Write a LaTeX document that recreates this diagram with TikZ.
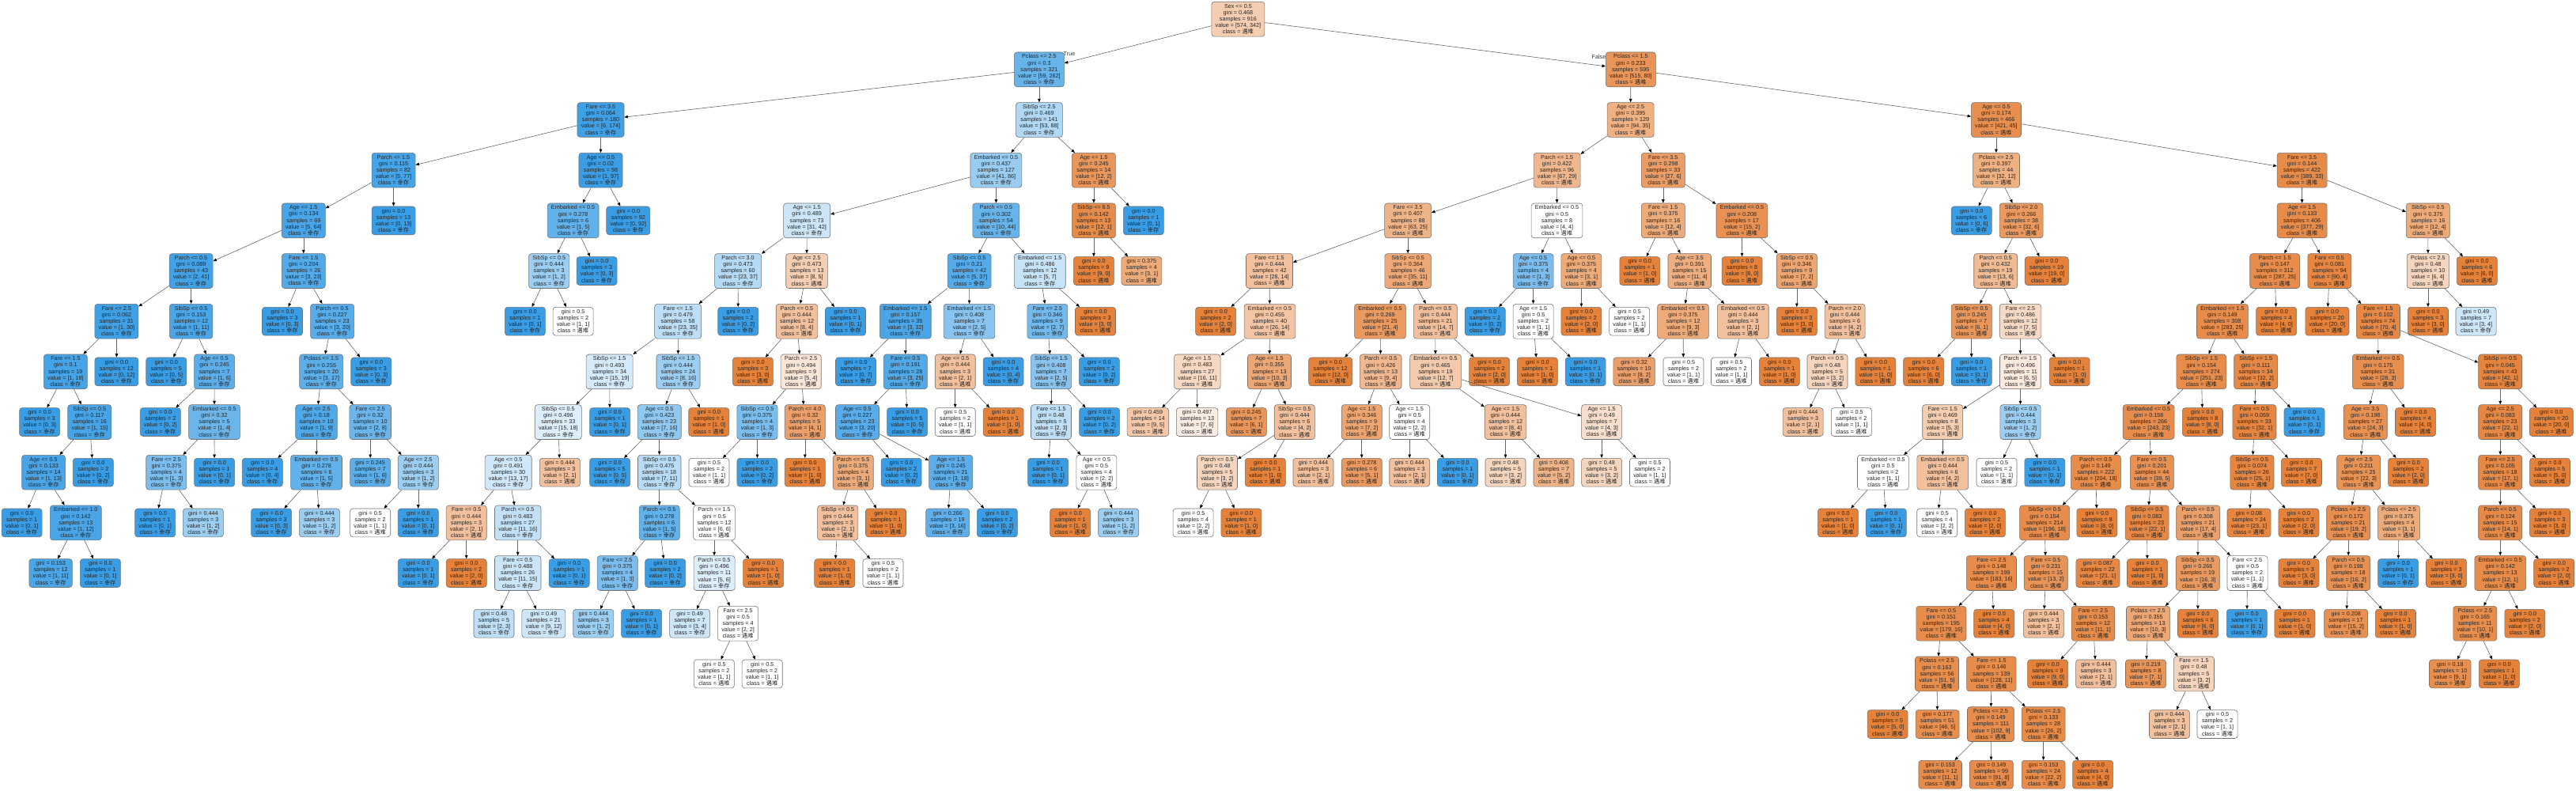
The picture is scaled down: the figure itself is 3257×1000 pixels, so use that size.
\documentclass[tikz,border=0pt]{standalone}
\usepackage{fontspec}
\setmainfont{Liberation Sans}
\newfontfamily\cjk{Noto Sans CJK SC}
\usetikzlibrary{arrows.meta}
\definecolor{Or}{RGB}{229,129,57}
\definecolor{Bl}{RGB}{57,157,229}
\newcommand\tnfont{\fontsize{7.2}{8.12}\selectfont\lineskiplimit=-6pt}
\tikzset{
  tbox/.style={draw=black!55, line width=0.6pt, rounded corners=3.5pt, align=center,
    text=black!85, font=\tnfont, inner xsep=4.8pt, inner ysep=0pt},
  splitbox/.style={tbox, minimum height=43.8pt},
  leafbox/.style={tbox, minimum height=35.8pt},
  tedge/.style={draw=black!60, line width=0.6pt, -{Triangle[length=4.5pt,width=3.6pt,color=black]}},
  tlabel/.style={font=\tnfont, text=black!80, inner sep=0pt}
}
% #1 parent, #2 id, #3 x, #4 level, #5 condition (empty = leaf), #6 gini, #7 samples, #8 a, #9 b
\newcommand\TN[9]{%
  \ifnum#8<#9\relax
    \pgfmathtruncatemacro\tnP{round(100*(1-#8/#9))}\def\tnBase{Bl}\def\tnC{幸存}%
  \else
    \pgfmathtruncatemacro\tnP{round(100*(1-#9/#8))}\def\tnBase{Or}\def\tnC{遇难}%
  \fi
  \edef\tnFill{\tnBase!\tnP}%
  \pgfmathsetmacro\tnY{24.2+63.67*#4}%
  \if\relax\detokenize{#5}\relax
    \node[leafbox,fill=\tnFill] (n#2) at (#3,\tnY) {gini = #6\\samples = #7\\value = [#8, #9]\\class = {\cjk\tnC}};%
  \else
    \node[splitbox,fill=\tnFill] (n#2) at (#3,\tnY) {#5\\gini = #6\\samples = #7\\value = [#8, #9]\\class = {\cjk\tnC}};%
  \fi
  \if\relax\detokenize{#1}\relax\else\draw[tedge] (n#1) -- (n#2);\fi
}
\begin{document}
\begin{tikzpicture}[x=1pt,y=-1pt]
\useasboundingbox (0,0) rectangle (3257,1000);
\fill[white] (0,0) rectangle (3257,1000);
\TN{}{1}{1565.4}{0}{Sex <= 0.5}{0.468}{916}{574}{342}
\TN{1}{2}{1313.9}{1}{Pclass <= 2.5}{0.3}{321}{59}{262}
\TN{1}{3}{2061.8}{1}{Pclass <= 1.5}{0.233}{595}{515}{80}
\TN{2}{4}{759.5}{2}{Fare <= 3.5}{0.064}{180}{6}{174}
\TN{2}{5}{1313.9}{2}{SibSp <= 2.5}{0.469}{141}{53}{88}
\TN{4}{6}{497.6}{3}{Parch <= 1.5}{0.115}{82}{5}{77}
\TN{4}{7}{759.5}{3}{Age <= 0.5}{0.02}{98}{1}{97}
\TN{6}{8}{383.8}{4}{Age <= 1.5}{0.134}{69}{5}{64}
\TN{6}{9}{497.6}{4}{}{0.0}{13}{0}{13}
\TN{8}{10}{241.6}{5}{Parch <= 0.5}{0.089}{43}{2}{41}
\TN{8}{11}{383.8}{5}{Fare <= 1.5}{0.204}{26}{3}{23}
\TN{10}{12}{147.4}{6}{Fare <= 2.5}{0.062}{31}{1}{30}
\TN{10}{13}{241.6}{6}{SibSp <= 0.5}{0.153}{12}{1}{11}
\TN{12}{14}{82.9}{7}{Fare <= 1.5}{0.1}{19}{1}{18}
\TN{12}{15}{147.4}{7}{}{0.0}{12}{0}{12}
\TN{14}{16}{50.1}{8}{}{0.0}{3}{0}{3}
\TN{14}{17}{113.3}{8}{SibSp <= 0.5}{0.117}{16}{1}{15}
\TN{17}{18}{55.1}{9}{Age <= 0.5}{0.133}{14}{1}{13}
\TN{17}{19}{117.8}{9}{}{0.0}{2}{0}{2}
\TN{18}{20}{27.6}{10}{}{0.0}{1}{0}{1}
\TN{18}{21}{95.8}{10}{Embarked <= 1.0}{0.142}{13}{1}{12}
\TN{21}{22}{64.1}{11}{}{0.153}{12}{1}{11}
\TN{21}{23}{126.9}{11}{}{0.0}{1}{0}{1}
\TN{13}{24}{210.3}{7}{}{0.0}{5}{0}{5}
\TN{13}{25}{271.1}{7}{Age <= 0.5}{0.245}{7}{1}{6}
\TN{25}{26}{202.8}{8}{}{0.0}{2}{0}{2}
\TN{25}{27}{271.0}{8}{Embarked <= 0.5}{0.32}{5}{1}{4}
\TN{27}{28}{210.3}{9}{Fare <= 2.5}{0.375}{4}{1}{3}
\TN{27}{29}{271.1}{9}{}{0.0}{1}{0}{1}
\TN{28}{30}{196.2}{10}{}{0.0}{1}{0}{1}
\TN{28}{31}{256.9}{10}{}{0.444}{3}{1}{2}
\TN{11}{32}{357.0}{6}{}{0.0}{3}{0}{3}
\TN{11}{33}{420.1}{6}{Parch <= 0.5}{0.227}{23}{3}{20}
\TN{33}{34}{406.3}{7}{Pclass <= 1.5}{0.255}{20}{3}{17}
\TN{33}{35}{469.3}{7}{}{0.0}{3}{0}{3}
\TN{34}{36}{400.1}{8}{Age <= 2.5}{0.18}{10}{1}{9}
\TN{34}{37}{468.2}{8}{Fare <= 2.5}{0.32}{10}{2}{8}
\TN{36}{38}{331.8}{9}{}{0.0}{4}{0}{4}
\TN{36}{39}{400.1}{9}{Embarked <= 0.5}{0.278}{6}{1}{5}
\TN{39}{40}{343.1}{10}{}{0.0}{3}{0}{3}
\TN{39}{41}{403.9}{10}{}{0.444}{3}{1}{2}
\TN{37}{42}{468.2}{9}{}{0.245}{7}{1}{6}
\TN{37}{43}{528.8}{9}{Age <= 2.5}{0.444}{3}{1}{2}
\TN{43}{44}{468.2}{10}{}{0.5}{2}{1}{1}
\TN{43}{45}{528.8}{10}{}{0.0}{1}{0}{1}
\TN{7}{46}{724.6}{4}{Embarked <= 0.5}{0.278}{6}{1}{5}
\TN{7}{47}{794.3}{4}{}{0.0}{92}{0}{92}
\TN{46}{48}{694.2}{5}{SibSp <= 0.5}{0.444}{3}{1}{2}
\TN{46}{49}{754.6}{5}{}{0.0}{3}{0}{3}
\TN{48}{50}{663.9}{6}{}{0.0}{1}{0}{1}
\TN{48}{51}{724.6}{6}{}{0.5}{2}{1}{1}
\TN{5}{52}{1259.4}{3}{Embarked <= 0.5}{0.437}{127}{41}{86}
\TN{5}{53}{1382.9}{3}{Age <= 1.5}{0.245}{14}{12}{2}
\TN{52}{54}{1020.2}{4}{Age <= 1.5}{0.489}{73}{31}{42}
\TN{52}{55}{1259.4}{4}{Parch <= 0.5}{0.302}{54}{10}{44}
\TN{54}{56}{933.1}{5}{Parch <= 3.0}{0.473}{60}{23}{37}
\TN{54}{57}{1020.0}{5}{Age <= 2.5}{0.473}{13}{8}{5}
\TN{56}{58}{857.2}{6}{Fare <= 1.5}{0.479}{58}{23}{35}
\TN{56}{59}{933.3}{6}{}{0.0}{2}{0}{2}
\TN{58}{60}{770.6}{7}{SibSp <= 1.5}{0.493}{34}{15}{19}
\TN{58}{61}{857.5}{7}{SibSp <= 1.5}{0.444}{24}{8}{16}
\TN{60}{62}{705.8}{8}{SibSp <= 0.5}{0.496}{33}{15}{18}
\TN{60}{63}{771.2}{8}{}{0.0}{1}{0}{1}
\TN{62}{64}{642.7}{9}{Age <= 0.5}{0.491}{30}{13}{17}
\TN{62}{65}{707.9}{9}{}{0.444}{3}{2}{1}
\TN{64}{66}{589.7}{10}{Fare <= 0.5}{0.444}{3}{2}{1}
\TN{64}{67}{654.7}{10}{Parch <= 0.5}{0.483}{27}{11}{16}
\TN{66}{68}{528.8}{11}{}{0.0}{1}{0}{1}
\TN{66}{69}{589.7}{11}{}{0.0}{2}{2}{0}
\TN{67}{70}{654.7}{11}{Fare <= 0.5}{0.488}{26}{11}{15}
\TN{67}{71}{719.7}{11}{}{0.0}{1}{0}{1}
\TN{70}{72}{624.5}{12}{}{0.48}{5}{2}{3}
\TN{70}{73}{687.4}{12}{}{0.49}{21}{9}{12}
\TN{61}{74}{833.7}{8}{Age <= 0.5}{0.423}{23}{7}{16}
\TN{61}{75}{896.3}{8}{}{0.0}{1}{1}{0}
\TN{74}{76}{771.2}{9}{}{0.0}{5}{0}{5}
\TN{74}{77}{833.7}{9}{SibSp <= 0.5}{0.475}{18}{7}{11}
\TN{77}{78}{833.7}{10}{Parch <= 0.5}{0.278}{6}{1}{5}
\TN{77}{79}{903.1}{10}{Parch <= 1.5}{0.5}{12}{6}{6}
\TN{78}{80}{780.7}{11}{Fare <= 2.5}{0.375}{4}{1}{3}
\TN{78}{81}{841.2}{11}{}{0.0}{2}{0}{2}
\TN{80}{82}{750.3}{12}{}{0.444}{3}{1}{2}
\TN{80}{83}{811.1}{12}{}{0.0}{1}{0}{1}
\TN{79}{84}{903.1}{11}{Parch <= 0.5}{0.496}{11}{5}{6}
\TN{79}{85}{965.1}{11}{}{0.0}{1}{1}{0}
\TN{84}{86}{872.1}{12}{}{0.49}{7}{3}{4}
\TN{84}{87}{933.1}{12}{Fare <= 2.5}{0.5}{4}{2}{2}
\TN{87}{88}{902.9}{13}{}{0.5}{2}{1}{1}
\TN{87}{89}{963.7}{13}{}{0.5}{2}{1}{1}
\TN{57}{90}{1007.5}{6}{Parch <= 0.5}{0.444}{12}{8}{4}
\TN{57}{91}{1069.0}{6}{}{0.0}{1}{0}{1}
\TN{90}{92}{951.9}{7}{}{0.0}{3}{3}{0}
\TN{90}{93}{1012.7}{7}{Parch <= 2.5}{0.494}{9}{5}{4}
\TN{93}{94}{957.5}{8}{SibSp <= 0.5}{0.375}{4}{1}{3}
\TN{93}{95}{1017.8}{8}{Parch <= 4.0}{0.32}{5}{4}{1}
\TN{94}{96}{896.5}{9}{}{0.5}{2}{1}{1}
\TN{94}{97}{957.5}{9}{}{0.0}{2}{0}{2}
\TN{95}{98}{1017.8}{9}{}{0.0}{1}{1}{0}
\TN{95}{99}{1078.7}{9}{Parch <= 5.5}{0.375}{4}{3}{1}
\TN{99}{100}{1059.3}{10}{SibSp <= 0.5}{0.444}{3}{2}{1}
\TN{99}{101}{1120.0}{10}{}{0.0}{1}{1}{0}
\TN{100}{102}{1055.3}{11}{}{0.0}{1}{1}{0}
\TN{100}{103}{1116.5}{11}{}{0.5}{2}{1}{1}
\TN{55}{104}{1225.6}{5}{SibSp <= 0.5}{0.21}{42}{5}{37}
\TN{55}{105}{1314.8}{5}{Embarked <= 1.5}{0.486}{12}{5}{7}
\TN{104}{106}{1144.8}{6}{Embarked <= 1.5}{0.157}{35}{3}{32}
\TN{104}{107}{1225.5}{6}{Embarked <= 1.5}{0.408}{7}{2}{5}
\TN{106}{108}{1082.0}{7}{}{0.0}{7}{0}{7}
\TN{106}{109}{1144.8}{7}{Fare <= 0.5}{0.191}{28}{3}{25}
\TN{109}{110}{1084.0}{8}{Age <= 0.5}{0.227}{23}{3}{20}
\TN{109}{111}{1147.1}{8}{}{0.0}{5}{0}{5}
\TN{110}{112}{1139.6}{9}{}{0.0}{2}{0}{2}
\TN{110}{113}{1202.2}{9}{Age <= 1.5}{0.245}{21}{3}{18}
\TN{113}{114}{1198.2}{10}{}{0.266}{19}{3}{16}
\TN{113}{115}{1260.9}{10}{}{0.0}{2}{0}{2}
\TN{107}{116}{1207.7}{7}{Age <= 0.5}{0.444}{3}{2}{1}
\TN{107}{117}{1268.6}{7}{}{0.0}{4}{0}{4}
\TN{116}{118}{1207.7}{8}{}{0.5}{2}{1}{1}
\TN{116}{119}{1268.6}{8}{}{0.0}{1}{1}{0}
\TN{105}{120}{1324.4}{6}{Fare <= 2.5}{0.346}{9}{2}{7}
\TN{105}{121}{1385.0}{6}{}{0.0}{3}{3}{0}
\TN{120}{122}{1329.0}{7}{SibSp <= 1.5}{0.408}{7}{2}{5}
\TN{120}{123}{1389.9}{7}{}{0.0}{2}{0}{2}
\TN{122}{124}{1329.0}{8}{Fare <= 1.5}{0.48}{5}{2}{3}
\TN{122}{125}{1390.1}{8}{}{0.0}{2}{0}{2}
\TN{124}{126}{1325.2}{9}{}{0.0}{1}{0}{1}
\TN{124}{127}{1386.4}{9}{Age <= 0.5}{0.5}{4}{2}{2}
\TN{127}{128}{1353.2}{10}{}{0.0}{1}{1}{0}
\TN{127}{129}{1414.2}{10}{}{0.444}{3}{1}{2}
\TN{53}{130}{1382.9}{4}{SibSp <= 6.5}{0.142}{13}{12}{1}
\TN{53}{131}{1445.8}{4}{}{0.0}{1}{0}{1}
\TN{130}{132}{1382.9}{5}{}{0.0}{9}{9}{0}
\TN{130}{133}{1443.4}{5}{}{0.375}{4}{3}{1}
\TN{3}{134}{2061.6}{2}{Age <= 2.5}{0.395}{129}{94}{35}
\TN{3}{135}{2523.9}{2}{Age <= 0.5}{0.174}{466}{421}{45}
\TN{134}{136}{1968.6}{3}{Parch <= 1.5}{0.422}{96}{67}{29}
\TN{134}{137}{2102.8}{3}{Fare <= 3.5}{0.298}{33}{27}{6}
\TN{136}{138}{1780.1}{4}{Fare <= 3.5}{0.407}{88}{63}{25}
\TN{136}{139}{1968.5}{4}{Embarked <= 0.5}{0.5}{8}{4}{4}
\TN{138}{140}{1605.0}{5}{Fare <= 1.5}{0.444}{42}{28}{14}
\TN{138}{141}{1780.1}{5}{SibSp <= 0.5}{0.364}{46}{35}{11}
\TN{140}{142}{1537.1}{6}{}{0.0}{2}{2}{0}
\TN{140}{143}{1605.5}{6}{Embarked <= 0.5}{0.455}{40}{26}{14}
\TN{143}{144}{1513.8}{7}{Age <= 1.5}{0.483}{27}{16}{11}
\TN{143}{145}{1605.0}{7}{Age <= 1.5}{0.355}{13}{10}{3}
\TN{144}{146}{1451.4}{8}{}{0.459}{14}{9}{5}
\TN{144}{147}{1513.6}{8}{}{0.497}{13}{7}{6}
\TN{145}{148}{1575.9}{8}{}{0.245}{7}{6}{1}
\TN{145}{149}{1636.8}{8}{SibSp <= 0.5}{0.444}{6}{4}{2}
\TN{149}{150}{1539.0}{9}{Parch <= 0.5}{0.48}{5}{3}{2}
\TN{149}{151}{1599.8}{9}{}{0.0}{1}{1}{0}
\TN{150}{152}{1508.6}{10}{}{0.5}{4}{2}{2}
\TN{150}{153}{1569.4}{10}{}{0.0}{1}{1}{0}
\TN{141}{154}{1745.0}{6}{Embarked <= 0.5}{0.269}{25}{21}{4}
\TN{141}{155}{1814.8}{6}{Parch <= 0.5}{0.444}{21}{14}{7}
\TN{154}{156}{1682.2}{7}{}{0.0}{12}{12}{0}
\TN{154}{157}{1745.7}{7}{Parch <= 0.5}{0.426}{13}{9}{4}
\TN{157}{158}{1721.7}{8}{Age <= 1.5}{0.346}{9}{7}{2}
\TN{157}{159}{1782.2}{8}{Age <= 1.5}{0.5}{4}{2}{2}
\TN{158}{160}{1660.5}{9}{}{0.444}{3}{2}{1}
\TN{158}{161}{1721.7}{9}{}{0.278}{6}{5}{1}
\TN{159}{162}{1782.2}{9}{}{0.444}{3}{2}{1}
\TN{159}{163}{1843.0}{9}{}{0.0}{1}{0}{1}
\TN{155}{164}{1815.0}{7}{Embarked <= 0.5}{0.465}{19}{12}{7}
\TN{155}{165}{1883.1}{7}{}{0.0}{2}{2}{0}
\TN{164}{166}{1903.5}{8}{Age <= 1.5}{0.444}{12}{8}{4}
\TN{164}{167}{2025.1}{8}{Age <= 1.5}{0.49}{7}{4}{3}
\TN{166}{168}{1903.5}{9}{}{0.48}{5}{3}{2}
\TN{166}{169}{1964.5}{9}{}{0.408}{7}{5}{2}
\TN{167}{170}{2025.1}{9}{}{0.48}{5}{3}{2}
\TN{167}{171}{2086.0}{9}{}{0.5}{2}{1}{1}
\TN{139}{172}{1938.6}{5}{Age <= 0.5}{0.375}{4}{1}{3}
\TN{139}{173}{1999.4}{5}{Age <= 0.5}{0.375}{4}{3}{1}
\TN{172}{174}{1877.7}{6}{}{0.0}{2}{0}{2}
\TN{172}{175}{1938.6}{6}{Age <= 1.5}{0.5}{2}{1}{1}
\TN{175}{176}{1943.8}{7}{}{0.0}{1}{1}{0}
\TN{175}{177}{2004.6}{7}{}{0.0}{1}{0}{1}
\TN{173}{178}{1999.4}{6}{}{0.0}{2}{2}{0}
\TN{173}{179}{2060.1}{6}{}{0.5}{2}{1}{1}
\TN{137}{180}{2102.8}{4}{Fare <= 1.5}{0.375}{16}{12}{4}
\TN{137}{181}{2202.4}{4}{Embarked <= 0.5}{0.208}{17}{15}{2}
\TN{180}{182}{2073.3}{5}{}{0.0}{1}{1}{0}
\TN{180}{183}{2136.2}{5}{Age <= 3.5}{0.391}{15}{11}{4}
\TN{183}{184}{2128.0}{6}{Embarked <= 0.5}{0.375}{12}{9}{3}
\TN{183}{185}{2203.8}{6}{Embarked <= 0.5}{0.444}{3}{2}{1}
\TN{184}{186}{2066.1}{7}{}{0.32}{10}{8}{2}
\TN{184}{187}{2128.5}{7}{}{0.5}{2}{1}{1}
\TN{185}{188}{2189.0}{7}{}{0.5}{2}{1}{1}
\TN{185}{189}{2249.9}{7}{}{0.0}{1}{1}{0}
\TN{181}{190}{2202.6}{5}{}{0.0}{8}{8}{0}
\TN{181}{191}{2271.8}{5}{SibSp <= 0.5}{0.346}{9}{7}{2}
\TN{191}{192}{2271.8}{6}{}{0.0}{3}{3}{0}
\TN{191}{193}{2332.6}{6}{Parch <= 2.0}{0.444}{6}{4}{2}
\TN{193}{194}{2310.5}{7}{Parch <= 0.5}{0.48}{5}{3}{2}
\TN{193}{195}{2371.3}{7}{}{0.0}{1}{1}{0}
\TN{194}{196}{2279.6}{8}{}{0.444}{3}{2}{1}
\TN{194}{197}{2340.8}{8}{}{0.5}{2}{1}{1}
\TN{135}{198}{2523.9}{3}{Pclass <= 2.5}{0.397}{44}{32}{12}
\TN{135}{199}{2910.6}{3}{Fare <= 3.5}{0.144}{422}{389}{33}
\TN{198}{200}{2492.7}{4}{}{0.0}{6}{0}{6}
\TN{198}{201}{2555.6}{4}{SibSp <= 2.0}{0.266}{38}{32}{6}
\TN{201}{202}{2523.2}{5}{Parch <= 0.5}{0.432}{19}{13}{6}
\TN{201}{203}{2587.7}{5}{}{0.0}{19}{19}{0}
\TN{202}{204}{2492.7}{6}{SibSp <= 0.5}{0.245}{7}{6}{1}
\TN{202}{205}{2554.5}{6}{Fare <= 2.5}{0.486}{12}{7}{5}
\TN{204}{206}{2432.2}{7}{}{0.0}{6}{6}{0}
\TN{204}{207}{2492.7}{7}{}{0.0}{1}{0}{1}
\TN{205}{208}{2554.5}{7}{Parch <= 1.5}{0.496}{11}{6}{5}
\TN{205}{209}{2616.6}{7}{}{0.0}{1}{1}{0}
\TN{208}{210}{2456.2}{8}{Fare <= 1.5}{0.469}{8}{5}{3}
\TN{208}{211}{2554.5}{8}{SibSp <= 0.5}{0.444}{3}{1}{2}
\TN{210}{212}{2380.9}{9}{Embarked <= 0.5}{0.5}{2}{1}{1}
\TN{210}{213}{2456.2}{9}{Embarked <= 0.5}{0.444}{6}{4}{2}
\TN{212}{214}{2323.9}{10}{}{0.0}{1}{1}{0}
\TN{212}{215}{2384.7}{10}{}{0.0}{1}{0}{1}
\TN{213}{216}{2449.2}{10}{}{0.5}{4}{2}{2}
\TN{213}{217}{2509.9}{10}{}{0.0}{2}{2}{0}
\TN{211}{218}{2524.5}{9}{}{0.5}{2}{1}{1}
\TN{211}{219}{2585.3}{9}{}{0.0}{1}{0}{1}
\TN{199}{220}{2910.6}{4}{Age <= 1.5}{0.133}{406}{377}{29}
\TN{199}{221}{3069.8}{4}{SibSp <= 0.5}{0.375}{16}{12}{4}
\TN{220}{222}{2876.2}{5}{Parch <= 1.5}{0.147}{312}{287}{25}
\TN{220}{223}{2945.3}{5}{Fare <= 0.5}{0.081}{94}{90}{4}
\TN{221}{224}{3069.9}{5}{Pclass <= 2.5}{0.48}{10}{6}{4}
\TN{221}{225}{3131.8}{5}{}{0.0}{6}{6}{0}
\TN{224}{226}{3069.9}{6}{}{0.0}{3}{3}{0}
\TN{224}{227}{3130.5}{6}{}{0.49}{7}{3}{4}
\TN{222}{228}{2809.9}{6}{Embarked <= 1.5}{0.149}{308}{283}{25}
\TN{222}{229}{2878.1}{6}{}{0.0}{4}{4}{0}
\TN{223}{230}{2942.4}{6}{}{0.0}{20}{20}{0}
\TN{223}{231}{3006.9}{6}{Fare <= 1.5}{0.102}{74}{70}{4}
\TN{228}{232}{2783.3}{7}{SibSp <= 1.5}{0.154}{274}{251}{23}
\TN{228}{233}{2852.2}{7}{SibSp <= 1.5}{0.111}{34}{32}{2}
\TN{231}{234}{3006.7}{7}{Embarked <= 0.5}{0.175}{31}{28}{3}
\TN{231}{235}{3161.2}{7}{SibSp <= 0.5}{0.045}{43}{42}{1}
\TN{232}{236}{2716.6}{8}{Embarked <= 0.5}{0.158}{266}{243}{23}
\TN{232}{237}{2784.9}{8}{}{0.0}{8}{8}{0}
\TN{233}{238}{2850.4}{8}{Fare <= 0.5}{0.059}{33}{32}{1}
\TN{233}{239}{2913.5}{8}{}{0.0}{1}{0}{1}
\TN{234}{240}{2990.7}{8}{Age <= 3.5}{0.198}{27}{24}{3}
\TN{234}{241}{3054.0}{8}{}{0.0}{4}{4}{0}
\TN{235}{242}{3161.2}{8}{Age <= 2.5}{0.083}{23}{22}{1}
\TN{235}{243}{3225.7}{8}{}{0.0}{20}{20}{0}
\TN{236}{244}{2649.8}{9}{Parch <= 0.5}{0.149}{222}{204}{18}
\TN{236}{245}{2720.8}{9}{Fare <= 0.5}{0.201}{44}{39}{5}
\TN{238}{246}{2847.4}{9}{SibSp <= 0.5}{0.074}{26}{25}{1}
\TN{238}{247}{2909.9}{9}{}{0.0}{7}{7}{0}
\TN{240}{248}{2982.2}{9}{Age <= 2.5}{0.211}{25}{22}{3}
\TN{240}{249}{3045.1}{9}{}{0.0}{2}{2}{0}
\TN{242}{250}{3161.2}{9}{Fare <= 2.5}{0.105}{18}{17}{1}
\TN{242}{251}{3223.9}{9}{}{0.0}{5}{5}{0}
\TN{244}{252}{2585.1}{10}{SibSp <= 0.5}{0.154}{214}{196}{18}
\TN{244}{253}{2651.3}{10}{}{0.0}{8}{8}{0}
\TN{245}{254}{2714.6}{10}{SibSp <= 0.5}{0.083}{23}{22}{1}
\TN{245}{255}{2779.2}{10}{Parch <= 0.5}{0.308}{21}{17}{4}
\TN{246}{256}{2843.5}{10}{}{0.08}{24}{23}{1}
\TN{246}{257}{2906.4}{10}{}{0.0}{2}{2}{0}
\TN{248}{258}{2969.2}{10}{Pclass <= 2.5}{0.172}{21}{19}{2}
\TN{248}{259}{3033.0}{10}{Pclass <= 2.5}{0.375}{4}{3}{1}
\TN{250}{260}{3161.2}{10}{Parch <= 0.5}{0.124}{15}{14}{1}
\TN{250}{261}{3223.9}{10}{}{0.0}{3}{3}{0}
\TN{252}{262}{2517.9}{11}{Fare <= 2.5}{0.148}{199}{183}{16}
\TN{252}{263}{2586.7}{11}{Fare <= 0.5}{0.231}{15}{13}{2}
\TN{254}{264}{2652.4}{11}{}{0.087}{22}{21}{1}
\TN{254}{265}{2715.0}{11}{}{0.0}{1}{1}{0}
\TN{255}{266}{2778.7}{11}{SibSp <= 0.5}{0.266}{19}{16}{3}
\TN{255}{267}{2841.5}{11}{Fare <= 2.5}{0.5}{2}{1}{1}
\TN{258}{268}{2906.4}{11}{}{0.0}{3}{3}{0}
\TN{258}{269}{2969.2}{11}{Parch <= 0.5}{0.198}{18}{16}{2}
\TN{259}{270}{3032.1}{11}{}{0.0}{1}{0}{1}
\TN{259}{271}{3093.0}{11}{}{0.0}{3}{3}{0}
\TN{260}{272}{3161.2}{11}{Embarked <= 0.5}{0.142}{13}{12}{1}
\TN{260}{273}{3229.2}{11}{}{0.0}{2}{2}{0}
\TN{262}{274}{2454.4}{12}{Fare <= 0.5}{0.151}{195}{179}{16}
\TN{262}{275}{2521.2}{12}{}{0.0}{4}{4}{0}
\TN{263}{276}{2583.9}{12}{}{0.444}{3}{2}{1}
\TN{263}{277}{2646.5}{12}{Fare <= 2.5}{0.153}{12}{11}{1}
\TN{266}{278}{2716.0}{12}{Pclass <= 2.5}{0.355}{13}{10}{3}
\TN{266}{279}{2779.0}{12}{}{0.0}{6}{6}{0}
\TN{267}{280}{2840.8}{12}{}{0.0}{1}{0}{1}
\TN{267}{281}{2901.4}{12}{}{0.0}{1}{1}{0}
\TN{269}{282}{2966.2}{12}{}{0.208}{17}{15}{2}
\TN{269}{283}{3028.9}{12}{}{0.0}{1}{1}{0}
\TN{272}{284}{3129.3}{12}{Pclass <= 2.5}{0.165}{11}{10}{1}
\TN{272}{285}{3192.3}{12}{}{0.0}{2}{2}{0}
\TN{274}{286}{2449.0}{13}{Pclass <= 2.5}{0.163}{56}{51}{5}
\TN{274}{287}{2517.9}{13}{Fare <= 1.5}{0.146}{139}{128}{11}
\TN{277}{288}{2589.1}{13}{}{0.0}{9}{9}{0}
\TN{277}{289}{2650.1}{13}{}{0.444}{3}{2}{1}
\TN{278}{290}{2713.0}{13}{}{0.219}{8}{7}{1}
\TN{278}{291}{2773.9}{13}{Fare <= 1.5}{0.48}{5}{3}{2}
\TN{284}{292}{3097.8}{13}{}{0.18}{10}{9}{1}
\TN{284}{293}{3159.8}{13}{}{0.0}{1}{1}{0}
\TN{286}{294}{2386.6}{14}{}{0.0}{5}{5}{0}
\TN{286}{295}{2449.6}{14}{}{0.177}{51}{46}{5}
\TN{287}{296}{2517.0}{14}{Pclass <= 2.5}{0.149}{111}{102}{9}
\TN{287}{297}{2583.6}{14}{Pclass <= 2.5}{0.133}{28}{26}{2}
\TN{291}{298}{2743.0}{14}{}{0.444}{3}{2}{1}
\TN{291}{299}{2803.5}{14}{}{0.5}{2}{1}{1}
\TN{296}{300}{2453.2}{15}{}{0.153}{12}{11}{1}
\TN{296}{301}{2517.7}{15}{}{0.149}{99}{91}{8}
\TN{297}{302}{2583.6}{15}{}{0.153}{24}{22}{2}
\TN{297}{303}{2646.1}{15}{}{0.0}{4}{4}{0}
\node[tlabel] (lblTrue) at (1352,68) {True};
\node[tlabel] (lblFalse) at (2021.5,72.3) {False};
\end{tikzpicture}
\end{document}
